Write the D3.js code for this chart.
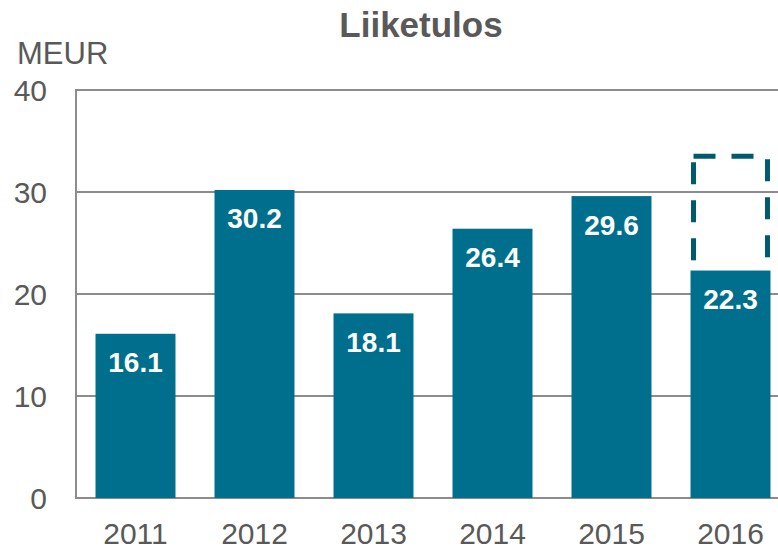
<!DOCTYPE html>
<html>
<head>
<meta charset="utf-8">
<script src="https://cdn.jsdelivr.net/npm/d3@7"></script>
<style>
body { margin: 0; background: #fff; }
</style>
</head>
<body>
<div id="chart"></div>
<script>
var years = ["2011", "2012", "2013", "2014", "2015", "2016"];
var values = [16.1, 30.2, 18.1, 26.4, 29.6, 22.3];
var yTicks = [0, 10, 20, 30, 40];
var targetYear = "2016";
var targetRange = [22.3, 33.5];

var width = 778, height = 549;
var mLeft = 76, mRight = 778, mTop = 90, mBottom = 498;

var svg = d3.select("#chart").append("svg")
    .attr("width", width)
    .attr("height", height)
    .style("font-family", "'Liberation Sans', Arial, sans-serif");

var x = d3.scaleBand()
    .domain(years)
    .range([mLeft, mLeft + 119 * 6])
    .paddingInner(0.328)
    .paddingOuter(0.164);

var y = d3.scaleLinear()
    .domain([0, 40])
    .range([mBottom, mTop]);

// gridlines
svg.selectAll(".grid")
    .data(yTicks)
    .enter()
    .append("line")
    .attr("x1", mLeft)
    .attr("x2", mRight)
    .attr("y1", function (d) { return y(d); })
    .attr("y2", function (d) { return y(d); })
    .attr("stroke", "#8c8c8c")
    .attr("stroke-width", 2);

svg.append("line")
    .attr("x1", mLeft).attr("x2", mLeft)
    .attr("y1", y(40) - 1).attr("y2", y(0) + 1)
    .attr("stroke", "#8c8c8c")
    .attr("stroke-width", 2);

// y labels
svg.selectAll(".ylab")
    .data(yTicks)
    .enter()
    .append("text")
    .attr("x", 47)
    .attr("y", function (d) { return y(d) + 10.5; })
    .attr("text-anchor", "end")
    .style("fill", "#595959")
    .style("font-size", "30px")
    .text(function (d) { return d; });

svg.append("text")
    .attr("x", 17)
    .attr("y", 64)
    .style("fill", "#595959")
    .style("font-size", "31px")
    .text("MEUR");

svg.append("text")
    .attr("x", 421)
    .attr("y", 37)
    .attr("text-anchor", "middle")
    .style("fill", "#595959")
    .style("font-size", "35px")
    .style("font-weight", "bold")
    .text("Liiketulos");

// dashed target box, open at the bottom (sits on the bar), each side dashed from the top
var bx0 = x(targetYear) + 3, bx1 = x(targetYear) + x.bandwidth() - 3;
var sides = [
    { x1: bx0, y1: y(targetRange[1]), x2: bx1, y2: y(targetRange[1]), off: 0 },
    { x1: bx0, y1: y(targetRange[1]), x2: bx0, y2: y(targetRange[0]), off: -6 },
    { x1: bx1, y1: y(targetRange[1]), x2: bx1, y2: y(targetRange[0]), off: -3 }
];
svg.selectAll(".target")
    .data(sides)
    .enter()
    .append("line")
    .attr("x1", function (d) { return d.x1; })
    .attr("y1", function (d) { return d.y1; })
    .attr("x2", function (d) { return d.x2; })
    .attr("y2", function (d) { return d.y2; })
    .attr("stroke", "#005a6e")
    .attr("stroke-width", 5)
    .attr("stroke-dasharray", "22,16")
    .attr("stroke-dashoffset", function (d) { return d.off; });

// bars
svg.selectAll(".bar")
    .data(values)
    .enter()
    .append("rect")
    .attr("x", function (d, i) { return x(years[i]); })
    .attr("y", function (d) { return y(d); })
    .attr("width", x.bandwidth())
    .attr("height", function (d) { return y(0) - y(d); })
    .attr("fill", "#006f8d");

// value labels
svg.selectAll(".val")
    .data(values)
    .enter()
    .append("text")
    .attr("x", function (d, i) { return x(years[i]) + x.bandwidth() / 2; })
    .attr("y", function (d) { return y(d) + 38.5; })
    .attr("text-anchor", "middle")
    .style("fill", "#ffffff")
    .style("font-size", "28px")
    .style("font-weight", "bold")
    .text(function (d) { return d.toFixed(1); });

// x labels
svg.selectAll(".xlab")
    .data(years)
    .enter()
    .append("text")
    .attr("x", function (d) { return x(d) + x.bandwidth() / 2; })
    .attr("y", 544)
    .attr("text-anchor", "middle")
    .style("fill", "#595959")
    .style("font-size", "30px")
    .text(function (d) { return d; });
</script>
</body>
</html>
